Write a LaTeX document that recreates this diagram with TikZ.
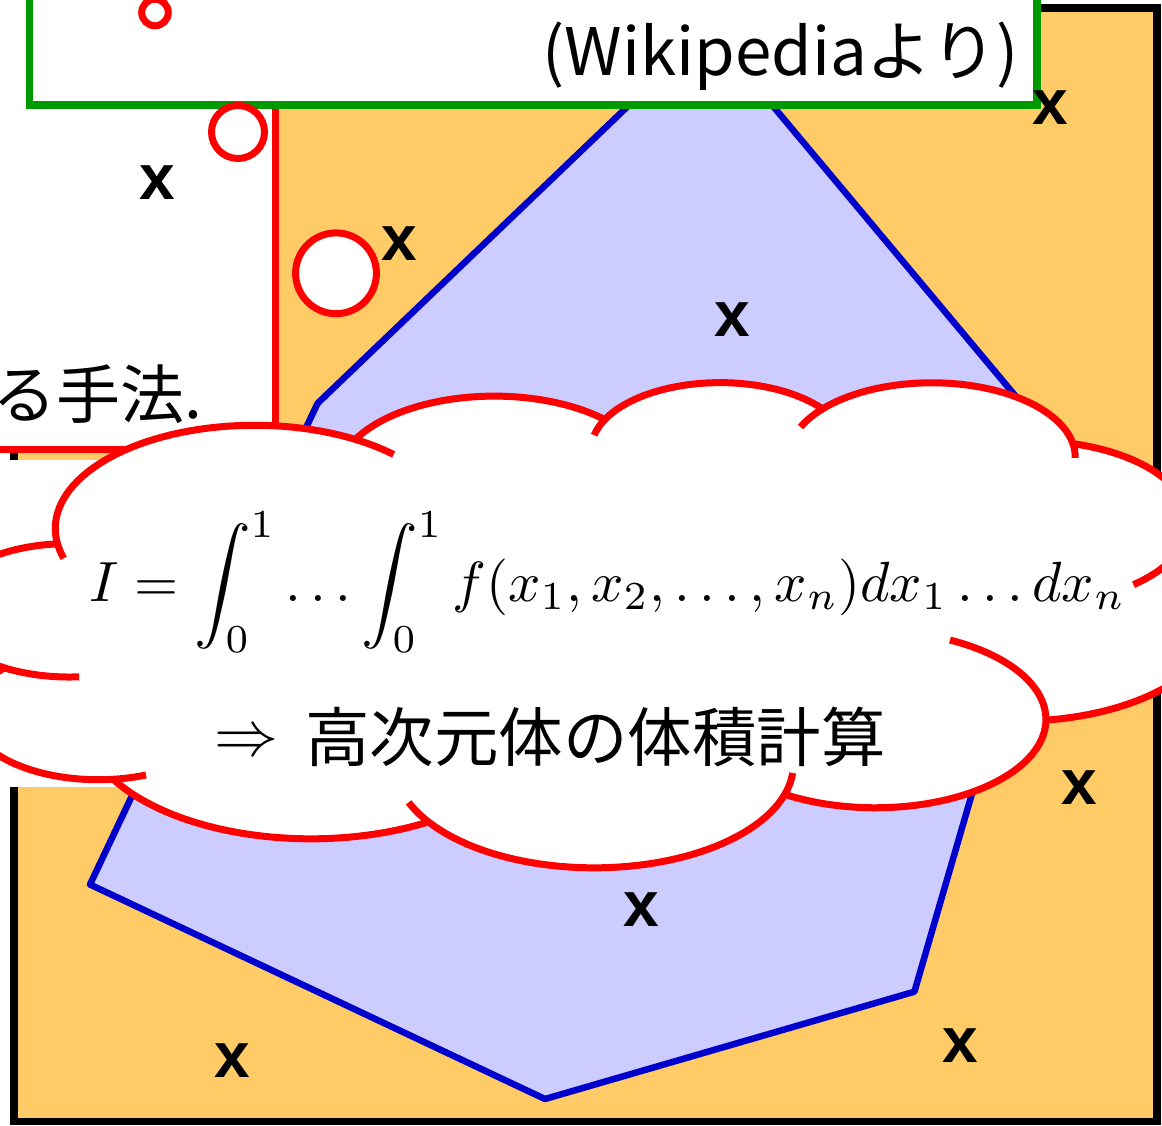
\documentclass[tikz,border=0pt]{standalone}
\usepackage{fontspec}
\usepackage{graphicx}
\newfontfamily\jpfont{Noto Sans CJK JP}
\newfontfamily\xfont{Liberation Sans}
\definecolor{cOrange}{RGB}{254,203,102}
\definecolor{cBlueFill}{RGB}{204,204,255}
\definecolor{cBlue}{RGB}{0,0,204}
\definecolor{cRed}{RGB}{255,0,0}
\definecolor{cGreen}{RGB}{0,153,0}
\tikzset{
  xmark/.style={inner sep=0pt, font=\xfont\bfseries\fontsize{64}{64}\selectfont},
  cloudedge/.style={draw=cRed, line width=7pt, line join=round},
  cloudtick/.style={draw=cRed, line width=7pt},
  tailcircle/.style={draw=cRed, line width=7pt, fill=white},
}
\begin{document}
\begin{tikzpicture}[x=1pt,y=-1pt]
\useasboundingbox (0,0) rectangle (1162,1125);
\clip (0,0) rectangle (1162,1125);
% orange frame
\draw[line width=7.7pt, fill=cOrange] (14,8) rectangle (1157,1121.5);
% blue polygon
\draw[draw=cBlue, fill=cBlueFill, line width=6.5pt, line join=round]
  (708.5,29) -- (1069,460) -- (914.4,991.7) -- (545,1099) -- (90,884.5) -- (317.6,403.3) -- cycle;
% white box with red border
\draw[draw=cRed, line width=7pt, fill=white] (-20,-30) rectangle (275,449.5);
\node[inner sep=0pt, anchor=east, font=\jpfont\fontsize{64}{64}\selectfont] (method) at (202,394.5) {る手法.};
% white background strip
\fill[white] (-20,460) rectangle (975,787);
% green box
\draw[draw=cGreen, line width=7.5pt, fill=white] (29.5,-30) rectangle (1037,105);
\node[inner sep=0pt, anchor=base east, font=\jpfont\fontsize{65.5}{65.5}\selectfont] (wiki) at (1019,75) {(Wikipediaより)};
% x marks
\node[xmark] (x1) at (157,183) {x};
\node[xmark] (x2) at (399,244) {x};
\node[xmark] (x3) at (732,320) {x};
\node[xmark] (x4) at (1050,108) {x};
\node[xmark] (x5) at (1079,788) {x};
\node[xmark] (x6) at (641,910) {x};
\node[xmark] (x7) at (232,1061) {x};
\node[xmark] (x8) at (960,1046) {x};
% cloud
\begin{scope}[shift={(-58,381)}, x=2.95139pt, y=-1.12269pt]
\path[fill=white, cloudedge]
  plot[domain=172.25:300.36, samples=48] ({105.91+67.53*cos(\x)},{131.31+91.90*sin(\x)})
  -- plot[domain=-152.02:-45.44, samples=48] ({187.15+53.33*cos(\x)},{86.12+72.67*sin(\x)})
  -- plot[domain=-153.49:-37.32, samples=48] ({263.63+43.65*cos(\x)},{60.89+59.45*sin(\x)})
  -- plot[domain=-139.69:-10.21, samples=48] ({335.38+48.57*cos(\x)},{67.51+65.95*sin(\x)})
  -- plot[domain=-74.77:23.21, samples=48] ({369.17+53.33*cos(\x)},{126.00+72.73*sin(\x)})
  -- plot[domain=-37.53:81.86, samples=48] ({364.45+67.75*cos(\x)},{210.82+92.20*sin(\x)})
  -- plot[domain=0.46:121.98, samples=48] ({316.19+57.85*cos(\x)},{301.46+78.67*sin(\x)})
  -- plot[domain=16.85:146.23, samples=48] ({220.93+67.52*cos(\x)},{341.49+92.15*sin(\x)})
  -- plot[domain=58.98:150.20, samples=48] ({125.03+77.20*cos(\x)},{302.35+105.43*sin(\x)})
  -- plot[domain=83.31:223.14, samples=48] ({52.96+43.60*cos(\x)},{295.97+59.18*sin(\x)})
  -- plot[domain=120.36:264.11, samples=48] ({43.10+43.45*cos(\x)},{204.21+59.45*sin(\x)})
  -- cycle;
\draw[cloudtick] plot[domain=85.55:120.36, samples=20] ({43.10+43.45*cos(\x)},{204.21+59.45*sin(\x)});
\draw[cloudtick] plot[domain=68.23:83.31, samples=20] ({52.96+43.60*cos(\x)},{295.97+59.18*sin(\x)});
\draw[cloudtick] plot[domain=146.23:158.47, samples=20] ({220.93+67.52*cos(\x)},{341.49+92.15*sin(\x)});
\draw[cloudtick] plot[domain=4.74:16.85, samples=20] ({220.93+67.52*cos(\x)},{341.49+92.15*sin(\x)});
\draw[cloudtick] plot[domain=-64.03:0.46, samples=30] ({316.19+57.85*cos(\x)},{301.46+78.67*sin(\x)});
\draw[cloudtick] plot[domain=23.21:49.63, samples=20] ({369.17+53.33*cos(\x)},{126.00+72.73*sin(\x)});
\draw[cloudtick] plot[domain=-10.21:0.82, samples=20] ({335.38+48.57*cos(\x)},{67.51+65.95*sin(\x)});
\draw[cloudtick] plot[domain=-156.29:-139.69, samples=20] ({335.38+48.57*cos(\x)},{67.51+65.95*sin(\x)});
\draw[cloudtick] plot[domain=-167.72:-153.49, samples=20] ({263.63+43.65*cos(\x)},{60.89+59.45*sin(\x)});
\draw[cloudtick] plot[domain=300.36:314.26, samples=20] ({105.91+67.53*cos(\x)},{131.31+91.90*sin(\x)});
\draw[cloudtick] plot[domain=163.19:172.25, samples=20] ({105.91+67.53*cos(\x)},{131.31+91.90*sin(\x)});
\end{scope}
% tail circles
\draw[tailcircle] (155,12.5) circle[radius=13.3pt];
\draw[tailcircle] (238,132) circle[radius=26.5pt];
\draw[tailcircle] (336,273.3) circle[radius=40.4pt];
% texts in cloud
\node[inner sep=0pt, anchor=base west] (formula) at (89,601)
  {\resizebox{1036pt}{!}{$\displaystyle I=\int_0^1\ldots\int_0^1 f(x_1,x_2,\ldots,x_n)dx_1\ldots dx_n$}};
\node[inner sep=0pt] (arrow) at (246,744) {\scalebox{6.4}{$\Rightarrow$}};
\node[inner sep=0pt, anchor=west, font=\jpfont\fontsize{64.5}{64.5}\selectfont] (volume) at (305,737) {高次元体の体積計算};
\end{tikzpicture}
\end{document}
